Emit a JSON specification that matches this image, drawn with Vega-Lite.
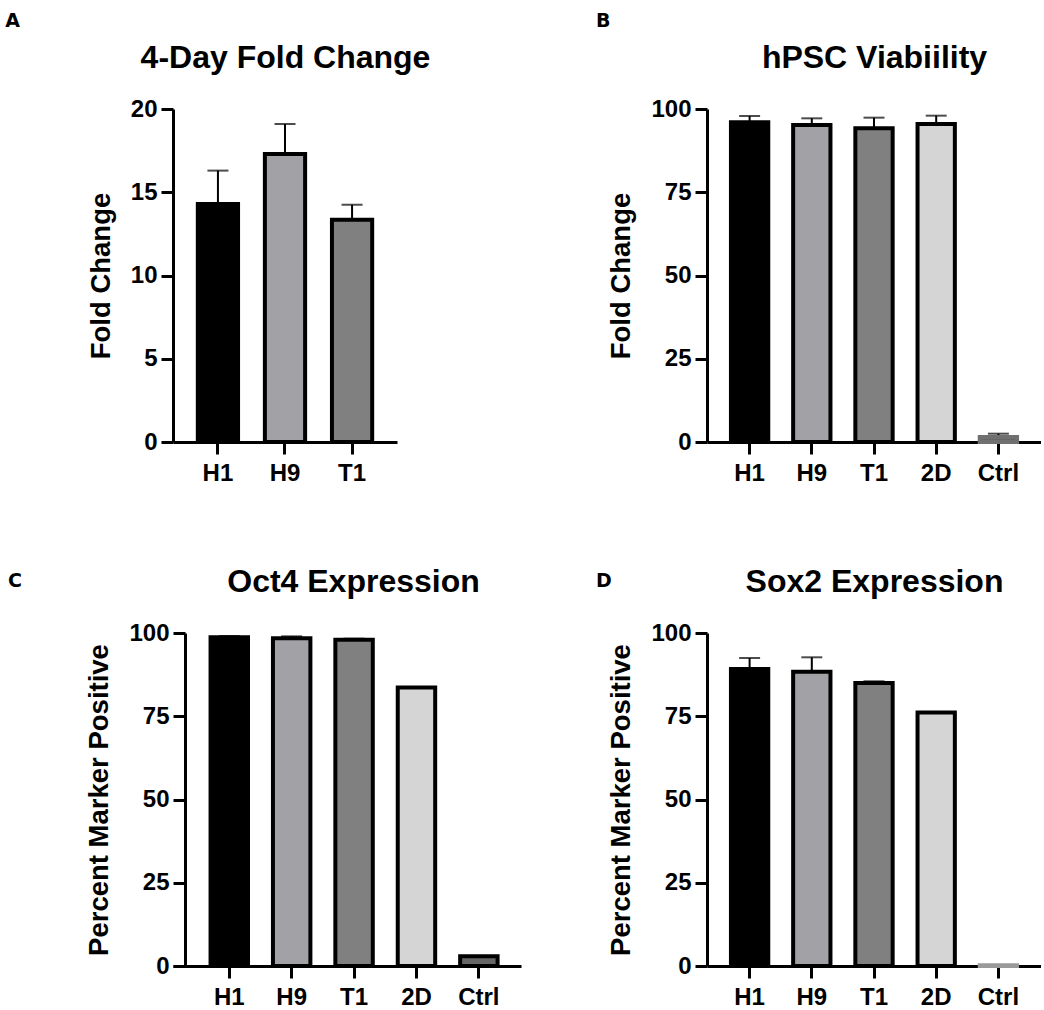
{
  "$schema": "https://vega.github.io/schema/vega-lite/v6.json",
  "background": "white",
  "padding": {"left": 5, "top": 12, "right": 0, "bottom": 0},
  "config": {
    "view": {"stroke": null},
    "axis": {
      "grid": false,
      "domainColor": "black", "domainWidth": 3,
      "tickColor": "black", "tickWidth": 3, "tickSize": 12,
      "labelFont": "Liberation Sans", "labelFontWeight": "bold", "labelFontSize": 24, "labelColor": "black",
      "titleFont": "Liberation Sans", "titleFontWeight": "bold", "titleFontSize": 27.5, "titleColor": "black"
    },
    "axisX": {"labelPadding": 7, "labelAngle": 0},
    "axisY": {"labelPadding": 4, "titlePadding": 15},
    "title": {"font": "DejaVu Sans", "fontWeight": "bold", "fontSize": 19, "color": "black", "anchor": "start", "frame": "bounds"}
  },
  "datasets": {
    "A": [
      {"cat": "H1", "value": 14.3, "upper": 16.3},
      {"cat": "H9", "value": 17.3, "upper": 19.1},
      {"cat": "T1", "value": 13.35, "upper": 14.25}
    ],
    "B": [
      {"cat": "H1", "value": 96.0, "upper": 97.9},
      {"cat": "H9", "value": 95.2, "upper": 97.2},
      {"cat": "T1", "value": 94.2, "upper": 97.4},
      {"cat": "2D", "value": 95.5, "upper": 98.0},
      {"cat": "Ctrl", "value": 1.5, "upper": 2.5}
    ],
    "C": [
      {"cat": "H1", "value": 98.7, "upper": 99.1},
      {"cat": "H9", "value": 98.4, "upper": 99.0},
      {"cat": "T1", "value": 98.0, "upper": 98.3},
      {"cat": "2D", "value": 83.6, "upper": null},
      {"cat": "Ctrl", "value": 2.9, "upper": null}
    ],
    "D": [
      {"cat": "H1", "value": 89.2, "upper": 92.5},
      {"cat": "H9", "value": 88.4, "upper": 92.7},
      {"cat": "T1", "value": 85.0, "upper": 85.5},
      {"cat": "2D", "value": 76.1, "upper": null},
      {"cat": "Ctrl", "value": 0.2, "upper": null}
    ]
  },
  "spacing": 74,
  "resolve": {"scale": {"fill": "independent", "stroke": "independent"}},
  "hconcat": [
    {
      "spacing": 80,
      "resolve": {"scale": {"fill": "independent", "stroke": "independent"}},
      "vconcat": [
        {
          "width": 224, "height": 333,
          "data": {"name": "A"},
          "title": {"text": "A", "dx": -82, "offset": 10},
          "resolve": {"axis": {"x": "independent"}},
          "layer": [
            {
              "transform": [{"filter": "isValid(datum.upper)"}],
              "mark": {"type": "rule", "color": "black", "strokeWidth": 2},
              "encoding": {
                "x": {"field": "cat", "type": "nominal", "scale": {"domain": ["H1", "H9", "T1"], "paddingInner": 0.4, "paddingOuter": 0.37}, "axis": null},
                "y": {"field": "value", "type": "quantitative", "title": "Fold Change"},
                "y2": {"field": "upper"}
              }
            },
            {
              "mark": {"type": "bar", "strokeWidth": 4},
              "encoding": {
                "x": {"field": "cat", "type": "nominal", "scale": {"domain": ["H1", "H9", "T1"], "paddingInner": 0.4, "paddingOuter": 0.37}, "axis": {"title": null}},
                "y": {"field": "value", "type": "quantitative", "title": "Fold Change", "scale": {"domain": [0, 20]}, "axis": {"values": [0, 5, 10, 15, 20]}},
                "fill": {"field": "cat", "type": "nominal", "scale": {"domain": ["H1", "H9", "T1"], "range": ["#000000", "#a2a2a6", "#808080"]}, "legend": null},
                "stroke": {"field": "cat", "type": "nominal", "scale": {"domain": ["H1", "H9", "T1"], "range": ["#000000", "#000000", "#000000"]}, "legend": null}
              }
            },
            {
              "transform": [{"filter": "isValid(datum.upper)"}],
              "mark": {"type": "tick", "color": "black", "thickness": 2, "size": 21},
              "encoding": {
                "x": {"field": "cat", "type": "nominal", "scale": {"domain": ["H1", "H9", "T1"], "paddingInner": 0.4, "paddingOuter": 0.37}, "axis": {"orient": "top", "title": "4-Day Fold Change", "domain": false, "ticks": false, "labels": false, "titleFontSize": 32, "titlePadding": 35}},
                "y": {"field": "upper", "type": "quantitative", "title": "Fold Change"}
              }
            }
          ]
        },
        {
          "width": 348, "height": 333,
          "data": {"name": "C"},
          "title": {"text": "C", "dx": -78, "offset": 10, "dy": 36},
          "resolve": {"axis": {"x": "independent"}},
          "layer": [
            {
              "transform": [{"filter": "isValid(datum.upper)"}],
              "mark": {"type": "rule", "color": "black", "strokeWidth": 2},
              "encoding": {
                "x": {"field": "cat", "type": "nominal", "scale": {"domain": ["H1", "H9", "T1", "2D", "Ctrl"], "paddingInner": 0.4, "paddingOuter": 0.4885, "align": 0.616}, "axis": null},
                "y": {"field": "value", "type": "quantitative", "title": "Percent Marker Positive"},
                "y2": {"field": "upper"}
              }
            },
            {
              "mark": {"type": "bar", "strokeWidth": 4},
              "encoding": {
                "x": {"field": "cat", "type": "nominal", "scale": {"domain": ["H1", "H9", "T1", "2D", "Ctrl"], "paddingInner": 0.4, "paddingOuter": 0.4885, "align": 0.616}, "axis": {"title": null}},
                "y": {"field": "value", "type": "quantitative", "title": "Percent Marker Positive", "scale": {"domain": [0, 100]}, "axis": {"values": [0, 25, 50, 75, 100], "offset": -12}},
                "fill": {"field": "cat", "type": "nominal", "scale": {"domain": ["H1", "H9", "T1", "2D", "Ctrl"], "range": ["#000000", "#a2a2a6", "#808080", "#d5d5d5", "#666666"]}, "legend": null},
                "stroke": {"field": "cat", "type": "nominal", "scale": {"domain": ["H1", "H9", "T1", "2D", "Ctrl"], "range": ["#000000", "#000000", "#000000", "#000000", "#000000"]}, "legend": null}
              }
            },
            {
              "transform": [{"filter": "isValid(datum.upper)"}],
              "mark": {"type": "tick", "color": "black", "thickness": 2, "size": 21},
              "encoding": {
                "x": {"field": "cat", "type": "nominal", "scale": {"domain": ["H1", "H9", "T1", "2D", "Ctrl"], "paddingInner": 0.4, "paddingOuter": 0.4885, "align": 0.616}, "axis": {"orient": "top", "title": "Oct4 Expression", "domain": false, "ticks": false, "labels": false, "titleFontSize": 32, "titlePadding": 35, "titleX": 180}},
                "y": {"field": "upper", "type": "quantitative", "title": "Percent Marker Positive"}
              }
            }
          ]
        }
      ]
    },
    {
      "spacing": 80,
      "resolve": {"scale": {"fill": "independent", "stroke": "independent"}},
      "vconcat": [
        {
          "width": 334, "height": 333,
          "data": {"name": "B"},
          "title": {"text": "B", "dx": -12, "offset": 10},
          "resolve": {"axis": {"x": "independent"}},
          "layer": [
            {
              "transform": [{"filter": "isValid(datum.upper)"}],
              "mark": {"type": "rule", "color": "black", "strokeWidth": 2},
              "encoding": {
                "x": {"field": "cat", "type": "nominal", "scale": {"domain": ["H1", "H9", "T1", "2D", "Ctrl"], "paddingInner": 0.4, "paddingOuter": 0.385}, "axis": null},
                "y": {"field": "value", "type": "quantitative", "title": "Fold Change"},
                "y2": {"field": "upper"}
              }
            },
            {
              "mark": {"type": "bar", "strokeWidth": 4},
              "encoding": {
                "x": {"field": "cat", "type": "nominal", "scale": {"domain": ["H1", "H9", "T1", "2D", "Ctrl"], "paddingInner": 0.4, "paddingOuter": 0.385}, "axis": {"title": null}},
                "y": {"field": "value", "type": "quantitative", "title": "Fold Change", "scale": {"domain": [0, 100]}, "axis": {"values": [0, 25, 50, 75, 100]}},
                "fill": {"field": "cat", "type": "nominal", "scale": {"domain": ["H1", "H9", "T1", "2D", "Ctrl"], "range": ["#000000", "#a2a2a6", "#808080", "#d5d5d5", "#666666"]}, "legend": null},
                "stroke": {"field": "cat", "type": "nominal", "scale": {"domain": ["H1", "H9", "T1", "2D", "Ctrl"], "range": ["#000000", "#000000", "#000000", "#000000", "#707070"]}, "legend": null}
              }
            },
            {
              "transform": [{"filter": "isValid(datum.upper)"}],
              "mark": {"type": "tick", "color": "black", "thickness": 2, "size": 21},
              "encoding": {
                "x": {"field": "cat", "type": "nominal", "scale": {"domain": ["H1", "H9", "T1", "2D", "Ctrl"], "paddingInner": 0.4, "paddingOuter": 0.385}, "axis": {"orient": "top", "title": "hPSC Viabiility", "domain": false, "ticks": false, "labels": false, "titleFontSize": 32, "titlePadding": 35}},
                "y": {"field": "upper", "type": "quantitative", "title": "Fold Change"}
              }
            }
          ]
        },
        {
          "width": 334, "height": 333,
          "data": {"name": "D"},
          "title": {"text": "D", "dx": -12, "offset": 10, "dy": 36},
          "resolve": {"axis": {"x": "independent"}},
          "layer": [
            {
              "transform": [{"filter": "isValid(datum.upper)"}],
              "mark": {"type": "rule", "color": "black", "strokeWidth": 2},
              "encoding": {
                "x": {"field": "cat", "type": "nominal", "scale": {"domain": ["H1", "H9", "T1", "2D", "Ctrl"], "paddingInner": 0.4, "paddingOuter": 0.385}, "axis": null},
                "y": {"field": "value", "type": "quantitative", "title": "Percent Marker Positive"},
                "y2": {"field": "upper"}
              }
            },
            {
              "mark": {"type": "bar", "strokeWidth": 4},
              "encoding": {
                "x": {"field": "cat", "type": "nominal", "scale": {"domain": ["H1", "H9", "T1", "2D", "Ctrl"], "paddingInner": 0.4, "paddingOuter": 0.385}, "axis": {"title": null}},
                "y": {"field": "value", "type": "quantitative", "title": "Percent Marker Positive", "scale": {"domain": [0, 100]}, "axis": {"values": [0, 25, 50, 75, 100]}},
                "fill": {"field": "cat", "type": "nominal", "scale": {"domain": ["H1", "H9", "T1", "2D", "Ctrl"], "range": ["#000000", "#a2a2a6", "#808080", "#d5d5d5", "#666666"]}, "legend": null},
                "stroke": {"field": "cat", "type": "nominal", "scale": {"domain": ["H1", "H9", "T1", "2D", "Ctrl"], "range": ["#000000", "#000000", "#000000", "#000000", "#9a9a9a"]}, "legend": null}
              }
            },
            {
              "transform": [{"filter": "isValid(datum.upper)"}],
              "mark": {"type": "tick", "color": "black", "thickness": 2, "size": 21},
              "encoding": {
                "x": {"field": "cat", "type": "nominal", "scale": {"domain": ["H1", "H9", "T1", "2D", "Ctrl"], "paddingInner": 0.4, "paddingOuter": 0.385}, "axis": {"orient": "top", "title": "Sox2 Expression", "domain": false, "ticks": false, "labels": false, "titleFontSize": 32, "titlePadding": 35}},
                "y": {"field": "upper", "type": "quantitative", "title": "Percent Marker Positive"}
              }
            }
          ]
        }
      ]
    }
  ]
}
